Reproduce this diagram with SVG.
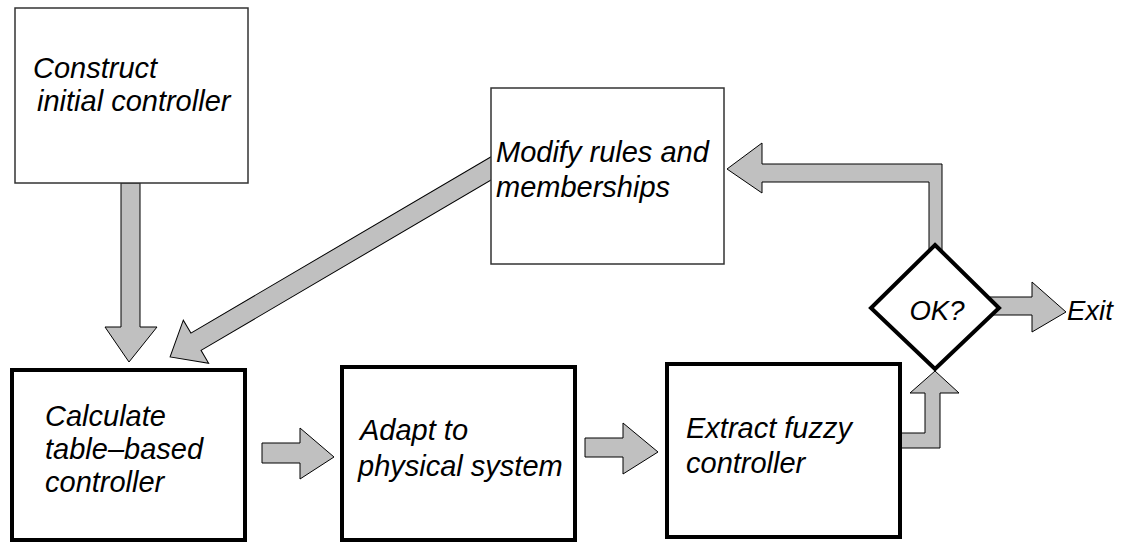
<svg xmlns="http://www.w3.org/2000/svg" width="1126" height="544" viewBox="0 0 1126 544">
<style>
.arrow{fill:#c0c0c0;stroke:#000;stroke-width:1;stroke-linejoin:miter}
.thin{fill:#fff;stroke:#333;stroke-width:1.5}
.thick{fill:#fff;stroke:#000;stroke-width:4}
.lbl{font-family:"Liberation Sans",Arial,sans-serif;font-style:italic;font-size:29px;fill:#000}
.sm{font-size:27.5px}
</style>
<rect width="1126" height="544" fill="#fff"/>
<g id="connectors">
<polygon class="arrow" points="121,183 121,327 105,327 129,362 157,327 140,327 140,183"/>
<polygon class="arrow" transform="translate(490,169) rotate(149.57)" points="-20,-10 341,-10 341,-25 371,0 341,25 341,10 -20,10"/>
<polygon class="arrow" points="262,443 300,443 300,428 334,457 300,479 300,463 262,463"/>
<polygon class="arrow" points="585,438 623,438 623,423 658,452 623,474 623,457 585,457"/>
<polygon class="arrow" points="898,433 925,433 925,393 910,393 935,371 959,393 940,393 940,448 898,448"/>
<polygon class="arrow" points="990,297 1032,297 1032,282 1066,312 1032,332 1032,315 990,315"/>
<polygon class="arrow" points="942,250 942,164 762,164 762,143 727,169 762,193 762,182 929,182 929,250"/>
</g>
<g id="construct">
<rect class="thin" x="15" y="8" width="233" height="175"/>
<text class="lbl" x="33" y="78">Construct</text>
<text class="lbl" x="37" y="111">initial controller</text>
</g>
<g id="modify">
<rect class="thin" x="491" y="88" width="233" height="176"/>
<text class="lbl" x="496" y="162">Modify rules and</text>
<text class="lbl" x="496" y="197">memberships</text>
</g>
<g id="calculate">
<rect class="thick" x="12" y="370" width="233" height="170"/>
<text class="lbl" x="45" y="426">Calculate</text>
<text class="lbl" x="45" y="459">table–based</text>
<text class="lbl" x="45" y="492">controller</text>
</g>
<g id="adapt">
<rect class="thick" x="342" y="367" width="233" height="173"/>
<text class="lbl" x="360" y="440">Adapt to</text>
<text class="lbl" x="358" y="476">physical system</text>
</g>
<g id="extract">
<rect class="thick" x="667" y="364" width="233" height="173"/>
<text class="lbl" x="686" y="438">Extract fuzzy</text>
<text class="lbl" x="686" y="473">controller</text>
</g>
<g id="ok">
<polygon class="thick" points="935,245 999,308 935,369 871,308"/>
<text class="lbl sm" x="937" y="320" text-anchor="middle">OK?</text>
</g>
<g id="exit">
<text class="lbl sm" x="1067" y="320">Exit</text>
</g>
</svg>
